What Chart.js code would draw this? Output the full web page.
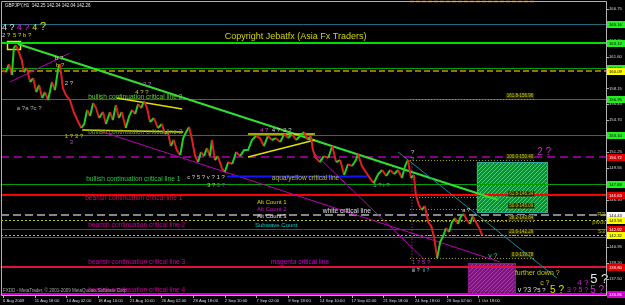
<!DOCTYPE html>
<html>
<head>
<meta charset="utf-8">
<script src="https://cdn.jsdelivr.net/npm/chart.js@4.4.0/dist/chart.umd.min.js"></script>
<style>
html, body { margin: 0; padding: 0; background: #000; }
canvas { display: block; }
</style>
</head>
<body>
<canvas id="chart" width="625" height="305"></canvas>
<script>
// GBPJPY H1, bar index counted from 6 Aug 2009
const priceBars = [0,6,12,18,22,26,32,38,42,48,55,61,67,73,79,85,91,99,105,111,115,121,127,135,143,152,158,164,170,176,182,188,194,202,208,216,222,228,234,240,248,255,261,267,273,279,285,291,297,305,313,321,327,333,339,345,351,358,364,370,376,382,388,394,400,406,412,418,422,428,434,442,448,455,463,471,479,487,495,503,511,519,527,535,543,551,560,568,576,584,592,600,608,616,622,626,632,640,648,657,665,673,681,689,697,705,713,717,725,733,741,749,758,766,774,782,790,798,806,812,818,824,830,834,840,846,852,859,865,871,877,883,889,895,901,907,913,919,925,931,937,943,949,955,962,968];
const priceValues = [160.14,159.92,160.79,159.60,162.52,162.85,162.09,161.22,159.92,160.36,158.84,159.27,157.76,158.52,157.11,157.76,156.89,158.84,157.97,160.14,160.79,158.19,157.43,156.89,155.59,154.51,153.86,154.29,155.81,155.16,156.57,156.02,154.94,155.59,154.29,155.59,154.72,156.35,154.94,155.59,153.86,155.16,155.81,155.37,156.46,156.02,156.78,156.02,154.51,154.94,153.86,154.29,153.21,153.42,151.91,152.56,151.47,150.93,152.77,153.42,153.97,152.56,150.82,150.17,151.26,150.82,151.69,150.82,152.56,150.39,150.82,149.52,149.09,150.17,149.96,151.26,150.82,151.47,151.47,152.56,152.99,152.77,151.91,152.99,152.56,152.77,152.34,153.21,152.77,153.21,152.56,152.99,153.42,152.56,152.99,151.47,150.61,150.17,150.82,150.61,151.91,150.17,150.39,148.77,149.96,149.74,150.39,151.04,149.74,149.09,148.44,147.90,148.87,149.31,148.66,149.31,148.87,149.31,148.44,149.74,150.39,148.44,148.77,146.60,145.52,144.97,145.41,143.67,143.24,141.94,139.77,141.51,142.16,143.02,142.59,143.67,144.11,143.46,144.32,144.54,143.89,143.46,144.32,143.67,143.02,142.26];

const dateTickBars = [0,64,128,192,256,320,384,448,512,576,640,704,768,832,896,960];
const dateTickLabels = ['6 Aug 2009','11 Aug 18:00','14 Aug 02:00','18 Aug 10:00','21 Aug 10:00','26 Aug 02:00','28 Aug 18:00','2 Sep 10:00','7 Sep 02:00','9 Sep 18:00','14 Sep 10:00','17 Sep 02:00','21 Sep 18:00','24 Sep 18:00','29 Sep 02:00','1 Oct 18:00'];
const priceTickValues = [137.50,139.20,140.95,142.65,144.40,146.10,147.80,149.55,151.25,153.00,154.70,156.45,158.15,159.85,161.60,163.30,165.05,166.75];

// horizontal objects on the chart
const levelPrices = [165.16,163.12,160.36,160.09,156.95,153.10,150.72,147.84,146.63,144.43,143.94,142.92,142.32,142.10,138.80,135.85];
const fibRatios = ['0.0','23.6','38.2','50.0','61.8','100.0','161.8','261.8'];
const fibPrices = [139.78,142.29,143.84,145.09,146.34,150.40,156.96,167.58];

const FONT = '"Liberation Sans", Arial, sans-serif';

const levelStyle = [
  {c: '#1d6e7e', w: 1},
  {c: '#00e000', w: 2},
  {c: '#00a000', w: 1},
  {c: '#c89600', w: 1.5, d: [6, 3]},
  {c: '#1d6e7e', w: 1},
  {c: '#1d6e7e', w: 1},
  {c: '#b000b0', w: 1.5, d: [8, 5]},
  {c: '#00a000', w: 1},
  {c: '#ff0000', w: 2},
  {c: '#b4b4b4', w: 1.5, d: [8, 4]},
  {c: '#c8c800', w: 1, d: [2, 2]},
  {c: '#c000a0', w: 1},
  {c: '#c8c800', w: 1, d: [2, 2]},
  {c: '#1d6e7e', w: 1},
  {c: '#e0103c', w: 2},
  {c: '#cc00cc', w: 2}
];
// price tags on the right axis: level index -> colour
const tagStyle = [
  [0, '#22ee22', '#000'], [1, '#22ee22', '#000'], [2, '#22ee22', '#000'], [3, '#ffff00', '#000'],
  [4, '#22ee22', '#000'], [5, '#22ee22', '#000'], [6, '#e00000', '#fff'], [7, '#22ee22', '#000'],
  [8, '#e00000', '#fff'], [9, '#ffffff', '#000'], [10, '#ffff00', '#000'], [11, '#e00000', '#fff'],
  [12, '#ffff00', '#000'], [14, '#e00000', '#fff'], [15, '#cc00cc', '#fff']
];

const trendLines = [
  {a: [30, 162.96], b: [1000, 146.06], c: '#33dd33', w: 2},
  {a: [798, 151.26], b: [1119, 137.6], c: '#1a8a9a', w: 1},
  {a: [14, 158.84], b: [135, 161.98], c: '#bb00bb', w: 1},
  {a: [196, 153.53], b: [1004, 139.34], c: '#bb00bb', w: 1},
  {a: [626, 151.26], b: [852, 139.56], c: '#bb00bb', w: 1},
  {a: [230, 157.11], b: [362, 155.92], c: '#e0e000', w: 1.5},
  {a: [160, 153.64], b: [364, 153.42], c: '#e0e000', w: 1.5},
  {a: [495, 153.21], b: [630, 153.21], c: '#e0e000', w: 1.5},
  {a: [495, 150.72], b: [630, 152.56], c: '#e0e000', w: 1.5},
  {a: [452, 148.60], b: [735, 148.60], c: '#1414ff', w: 2},
  {a: [826, 150.0], b: [826, 139.5], c: '#cc33cc', w: 1, d: [1, 2]}
];

const boxes = [
  {a: [957, 150.17], b: [1099, 144.76], bg: '#168a3c', fg: '#3fd36a', border: '#2aa89a'},
  {a: [939, 139.23], b: [1034, 136.0], bg: '#7d1680', fg: '#a63aa6', border: '#8a1a8a'},
  {a: [8, 163.28], b: [34, 162.42], border: '#e8e800', w: 1.5}
];

const texts = [
  ['bullish continuation critical line 2', 172, 157.22, '#66cc33', 6.6],
  ['bullish continuation critical line 2', 172, 153.42, '#7a9a22', 6.6],
  ['bullish continuation critical line 1', 168, 148.33, '#22cc44', 6.6],
  ['bearish continuation critical line 1', 166, 146.27, '#d0105a', 6.6],
  ['bearish continuation critical line 2', 172, 143.35, '#cc0099', 6.6],
  ['bearish continuation critical line 3', 172, 139.34, '#cc0099', 6.6],
  ['bearish continuation critical line 4', 172, 136.31, '#cc0099', 6.6],
  ['magenta critical line', 541, 139.34, '#cc00cc', 6.6],
  ['aqua/yellow critical line', 543, 148.38, '#b4b43c', 6.6],
  ['white critical line', 646, 144.87, '#e0e0e0', 6.6],
  ['Alt Count 1', 513, 145.84, '#dddd00', 6],
  ['Alt Count 2', 513, 145.08, '#dd00dd', 6],
  ['Alt Count 3', 513, 144.27, '#e0e0e0', 6],
  ['Subwave Count', 509, 143.35, '#00cccc', 6],
  ['Copyright Jebatfx (Asia Fx Traders)', 448, 163.72, '#d4d400', 9],
  ['further down ?', 1034, 138.15, '#c8c800', 7],
  ['2 ?', 1079, 151.26, '#cc22cc', 10],
  ['5 ?', 1186, 137.5, '#e8e8e8', 13],
  ['4 ?', 1160, 137.06, '#cc22cc', 8],
  ['c ?', 1085, 137.06, '#d0d000', 7],
  ['v ?3 ?', 1040, 136.31, '#e0e0e0', 7],
  ['5 ?', 1079, 136.31, '#e0e0e0', 6],
  ['5 ?', 1105, 136.31, '#e0e000', 10],
  ['3 ? 5 ?', 1139, 136.31, '#cc22cc', 7],
  ['5 ?', 1186, 136.31, '#dd22dd', 10],
  ['v ?', 980, 139.99, '#22cccc', 7],
  ['1 ? 5 ?', 826, 139.34, '#cc22cc', 6],
  ['iii ?', 826, 138.36, '#d0d0d0', 5],
  ['ii ?', 848, 138.36, '#22cccc', 5],
  ['a ?', 927, 144.97, '#d0d0d0', 6],
  ['?', 824, 151.26, '#d0d0d0', 6],
  ['?', 824, 150.50, '#22cccc', 6],
  ['4 ?', 519, 153.64, '#cc44cc', 6],
  ['4 ?', 543, 153.64, '#d0d0d0', 6],
  ['2 ?', 566, 153.64, '#d0d0d0', 6],
  ['c ? 5 ? v ? 1 ?', 372, 148.55, '#d0d0d0', 6],
  ['3 ?', 412, 147.68, '#cccc33', 6],
  ['3 ?', 432, 147.68, '#cc44cc', 6],
  ['1 ? i ?', 748, 147.68, '#40c0c0', 6],
  ['1 ? 3 ?', 125, 153.0, '#c8c830', 6],
  ['3', 135, 152.34, '#cc44cc', 6],
  ['a ?a ?c ?', 28, 156.02, '#b0b0b0', 6],
  ['b ?', 105, 161.44, '#d0d0d0', 6],
  ['b ?', 107, 160.68, '#cccc33', 6],
  ['2 ?', 125, 158.73, '#d0d0d0', 6],
  ['2 ?', 283, 158.62, '#cc66cc', 6],
  ['4 ? ?', 267, 157.76, '#cccc44', 6],
  ['4 ?', -2, 164.80, '#e0e0e0', 9],
  ['4 ?', 28, 164.80, '#dd22dd', 9],
  ['4', 59, 164.80, '#e0e000', 9],
  ['?', 75, 164.80, '#e0e000', 11],
  ['2 ?', -2, 163.85, '#d0d0d0', 6],
  ['5 ? b ?', 20, 163.93, '#d4d400', 6]
];
const pivotTexts = [['R3', 144.49], ['pivot', 143.63], ['S3', 142.65]];

function hatch(ctx, bg, fg) {
  const c = document.createElement('canvas');
  c.width = 4; c.height = 4;
  const g = c.getContext('2d');
  g.fillStyle = bg; g.fillRect(0, 0, 4, 4);
  g.fillStyle = fg; g.fillRect(0, 0, 1, 1); g.fillRect(2, 2, 1, 1); g.fillRect(1, 3, 1, 1); g.fillRect(3, 1, 1, 1);
  return ctx.createPattern(c, 'repeat');
}

const overlay = {
  id: 'overlay',
  beforeDatasetsDraw(chart) {
    const {ctx, chartArea: a, scales: {x, y}} = chart;
    ctx.save();
    // rectangles
    boxes.forEach(b => {
      const x1 = x.getPixelForValue(b.a[0]), y1 = y.getPixelForValue(b.a[1]);
      const x2 = x.getPixelForValue(b.b[0]), y2 = y.getPixelForValue(b.b[1]);
      if (b.bg) {
        ctx.fillStyle = hatch(ctx, b.bg, b.fg);
        ctx.fillRect(x1, y1, x2 - x1, y2 - y1);
      }
      ctx.strokeStyle = b.border; ctx.lineWidth = b.w || 1; ctx.setLineDash([]);
      ctx.strokeRect(Math.round(x1) + 0.5, Math.round(y1) + 0.5, Math.round(x2 - x1), Math.round(y2 - y1));
    });
    // full-width levels
    levelPrices.forEach((p, i) => {
      const s = levelStyle[i];
      const py = Math.round(y.getPixelForValue(p)) + (s.w === 1 ? 0.5 : 0);
      ctx.strokeStyle = s.c; ctx.lineWidth = s.w; ctx.setLineDash(s.d || []);
      ctx.beginPath(); ctx.moveTo(a.left, py); ctx.lineTo(a.right, py); ctx.stroke();
    });
    // fibonacci levels
    const fx1 = x.getPixelForValue(822), fx2 = x.getPixelForValue(1075);
    ctx.font = '4.5px ' + FONT; ctx.textAlign = 'right'; ctx.textBaseline = 'bottom';
    fibPrices.forEach((p, i) => {
      const py = Math.round(y.getPixelForValue(p)) + 0.5;
      const top = fibRatios[i] === '261.8';
      ctx.strokeStyle = top ? '#c87800' : '#a8a800'; ctx.lineWidth = top ? 1.5 : 1;
      ctx.setLineDash(top ? [4, 2] : [1, 2]);
      ctx.beginPath(); ctx.moveTo(fx1, Math.max(py, a.top + 0.5)); ctx.lineTo(fx2, Math.max(py, a.top + 0.5)); ctx.stroke();
      if (!top) {
        const label = fibRatios[i] + '-' + p.toFixed(2);
        const w = ctx.measureText(label).width;
        ctx.fillStyle = '#262600'; ctx.fillRect(fx2 - 2 - w - 1, py - 6.5, w + 2, 5.5);
        ctx.fillStyle = '#c8c800'; ctx.fillText(label, fx2 - 2, py - 1);
      }
    });
    // trend lines
    trendLines.forEach(t => {
      ctx.strokeStyle = t.c; ctx.lineWidth = t.w; ctx.setLineDash(t.d || []);
      ctx.beginPath();
      ctx.moveTo(x.getPixelForValue(t.a[0]), y.getPixelForValue(t.a[1]));
      ctx.lineTo(x.getPixelForValue(t.b[0]), y.getPixelForValue(t.b[1]));
      ctx.stroke();
    });
    ctx.restore();
  },
  afterDatasetsDraw(chart) {
    const {ctx, chartArea: a, scales: {x, y}} = chart;
    ctx.save();
    ctx.textAlign = 'left'; ctx.textBaseline = 'middle';
    texts.forEach(([t, bar, p, c, size]) => {
      ctx.font = size + 'px ' + FONT;
      ctx.fillStyle = c;
      ctx.fillText(t, x.getPixelForValue(bar), y.getPixelForValue(p));
    });
    ctx.font = '6px ' + FONT; ctx.textAlign = 'right'; ctx.fillStyle = '#b8b800';
    pivotTexts.forEach(([t, p]) => ctx.fillText(t, a.right - 1, y.getPixelForValue(p)));
    ctx.restore();
  },
  afterDraw(chart) {
    const {ctx, chartArea: a, scales: {x, y}} = chart;
    ctx.save();
    ctx.strokeStyle = '#b0b0b0'; ctx.lineWidth = 1; ctx.setLineDash([]);
    ctx.beginPath();
    ctx.moveTo(a.left + 0.5, a.top + 0.5); ctx.lineTo(a.right + 0.5, a.top + 0.5);
    ctx.lineTo(a.right + 0.5, a.bottom + 0.5); ctx.lineTo(a.left + 0.5, a.bottom + 0.5); ctx.closePath();
    ctx.stroke();
    // tick marks
    ctx.beginPath();
    priceTickValues.forEach(v => {
      const py = Math.round(y.getPixelForValue(v)) + 0.5;
      ctx.moveTo(a.right, py); ctx.lineTo(a.right + 3, py);
    });
    dateTickBars.forEach(v => {
      const xx = Math.round(x.getPixelForValue(v)) + 0.5;
      ctx.moveTo(xx, a.bottom); ctx.lineTo(xx, a.bottom + 3);
    });
    ctx.stroke();
    // price tags
    ctx.font = '4.2px ' + FONT; ctx.textAlign = 'left'; ctx.textBaseline = 'middle';
    tagStyle.forEach(([i, bg, fg]) => {
      const py = Math.round(y.getPixelForValue(levelPrices[i]));
      ctx.fillStyle = bg; ctx.fillRect(a.right + 1, py - 3, chart.width - a.right - 1, 7);
      ctx.fillStyle = fg; ctx.fillText(levelPrices[i].toFixed(2), a.right + 3, py + 0.5);
    });
    // header and footer
    ctx.fillStyle = '#e8e8e8'; ctx.font = '4.5px ' + FONT;
    ctx.fillText('GBPJPY,H1  142.25 142.34 142.04 142.26', a.left + 4, a.top + 5);
    ctx.fillStyle = '#a8a8a8'; ctx.font = '4.5px ' + FONT;
    ctx.fillText('FXDD - MetaTrader, \u00a9 2001-2009 MetaQuotes Software Corp.', a.left + 2, a.bottom - 4);
    ctx.restore();
  }
};

new Chart(document.getElementById('chart'), {
  type: 'line',
  data: {
    datasets: [{
      data: priceBars.map((b, i) => ({x: b, y: priceValues[i]})),
      borderWidth: 2,
      pointRadius: 0,
      tension: 0,
      segment: {
        borderColor: c => c.p1.parsed.y >= c.p0.parsed.y ? '#22d022' : '#e02020'
      }
    }]
  },
  options: {
    responsive: false,
    animation: false,
    events: [],
    layout: {padding: {left: 1, top: 1, right: 0, bottom: 0}},
    plugins: {legend: {display: false}, tooltip: {enabled: false}},
    scales: {
      x: {
        type: 'linear', min: -4, max: 1218, position: 'bottom',
        grid: {display: false, drawTicks: false}, border: {display: false},
        afterBuildTicks: s => { s.ticks = dateTickBars.map(v => ({value: v})); },
        ticks: {
          color: '#dcdcdc', font: {size: 4.2, family: FONT}, align: 'start',
          maxRotation: 0, minRotation: 0, autoSkip: false, padding: 3,
          callback: (v, i) => dateTickLabels[i]
        },
        afterFit: s => { s.height = 10; s.paddingLeft = 0; s.paddingRight = 0; }
      },
      y: {
        type: 'linear', min: 135.77, max: 167.62, position: 'right',
        grid: {display: false, drawTicks: false}, border: {display: false},
        afterBuildTicks: s => { s.ticks = priceTickValues.map(v => ({value: v})); },
        ticks: {
          color: '#dcdcdc', font: {size: 4.2, family: FONT}, padding: 3, autoSkip: false,
          callback: v => Number(v).toFixed(2)
        },
        afterFit: s => { s.width = 19; s.paddingTop = 0; s.paddingBottom = 0; }
      }
    }
  },
  plugins: [overlay]
});
</script>
</body>
</html>
